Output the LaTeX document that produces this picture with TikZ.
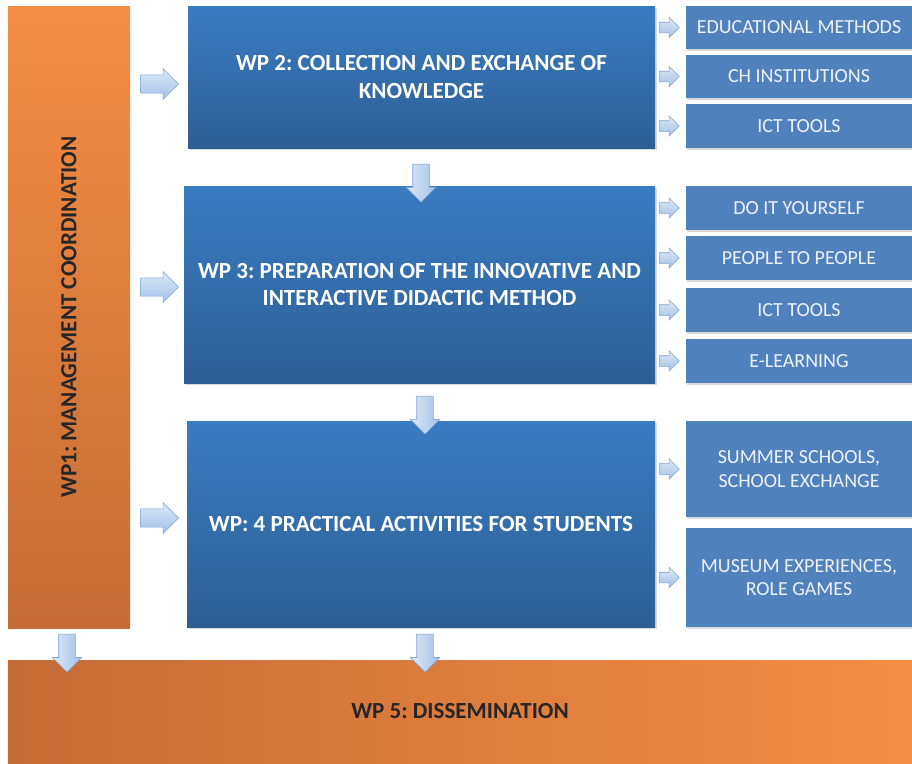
\documentclass[tikz,border=0pt]{standalone}
\usepackage{fontspec}
\setmainfont{Carlito}
\usetikzlibrary{positioning}
\usetikzlibrary{shapes.arrows}
\usetikzlibrary{shadows}
\definecolor{wpbluetop}{HTML}{3A7CC1}
\definecolor{wpbluebot}{HTML}{2D5F95}
\definecolor{subblue}{HTML}{4F81BD}
\definecolor{subtext}{HTML}{EEF2F8}
\definecolor{wporange}{HTML}{F58D43}
\definecolor{wporangedark}{HTML}{C46C36}
\definecolor{arrowlight}{HTML}{DDE8F6}
\definecolor{arrowdark}{HTML}{A3C1E8}
\definecolor{arrowline}{HTML}{7FA5D5}
\newcommand{\wpfont}{\bfseries\fontsize{16.4}{19.5}\selectfont}
\newcommand{\subfont}{\fontsize{14.2}{16.5}\selectfont}
\frenchspacing

\begin{document}
\begin{tikzpicture}[wpbox/.style={rectangle,inner sep=0pt,align=center,text=white,font=\wpfont,top color=wpbluetop,bottom color=wpbluebot,drop shadow={shadow xshift=0.04cm,shadow yshift=-0.05cm,opacity=0.3}},
  subbox/.style={rectangle,inner sep=0pt,align=center,text=subtext,font=\subfont,fill=subblue,minimum width=5.65cm,minimum height=1.1cm,drop shadow={shadow xshift=0.03cm,shadow yshift=-0.04cm,opacity=0.3}},
  orangebox/.style={rectangle,inner sep=0pt,align=center,text=black!85,font=\wpfont},
  bigarrow/.style={single arrow,draw=arrowline,top color=arrowlight,bottom color=arrowdark,inner sep=0.22cm,minimum height=0.95cm,single arrow head extend=0.16cm},
  smallarrow/.style={single arrow,draw=arrowline,top color=arrowlight,bottom color=arrowdark,inner sep=0.125cm,minimum height=0.5cm,single arrow head extend=0.125cm},
  downarrow/.style={single arrow,shape border rotate=270,draw=arrowline,left color=arrowlight,right color=arrowdark,inner sep=0.2cm,minimum height=0.95cm,single arrow head extend=0.16cm}]
    \useasboundingbox (0,0) rectangle (22.8,-19.075);
    \node[orangebox,top color=wporange,bottom color=wporangedark,minimum width=3.05cm,minimum height=15.55cm] (wp1) at (1.725,-7.925) {\rotatebox{90}{WP1: MANAGEMENT COORDINATION}};
    \node[orangebox,left color=wporangedark,right color=wporange,minimum width=22.6cm,minimum height=2.575cm] (wp5) at (11.5,-17.7875) {WP 5: DISSEMINATION};
    \node[wpbox,minimum width=11.675cm,minimum height=3.55cm] (wp2) at (10.5375,-1.925) {WP 2: COLLECTION AND EXCHANGE OF\\KNOWLEDGE};
    \node[wpbox,minimum width=11.775cm,minimum height=4.925cm] (wp3) at (10.4875,-7.1125) {WP 3: PREPARATION OF THE INNOVATIVE AND\\INTERACTIVE DIDACTIC METHOD};
    \node[wpbox,minimum width=11.7cm,minimum height=5.15cm] (wp4) at (10.525,-13.1) {WP: 4 PRACTICAL ACTIVITIES FOR STUDENTS};
    % sub-tasks
    \node[subbox,minimum height=1.075cm] (edu) at (19.975,-0.6875) {EDUCATIONAL METHODS};
    \node[subbox,minimum height=1.075cm] (chinst) at (19.975,-1.9125) {CH INSTITUTIONS};
    \node[subbox] (ict2) at (19.975,-3.15) {ICT TOOLS};
    \node[subbox] (diy) at (19.975,-5.2) {DO IT YOURSELF};
    \node[subbox] (p2p) at (19.975,-6.45) {PEOPLE TO PEOPLE};
    \node[subbox] (ict3) at (19.975,-7.75) {ICT TOOLS};
    \node[subbox] (elearn) at (19.975,-9.025) {E-LEARNING};
    \node[subbox,minimum height=2.4cm] (summer) at (19.975,-11.725) {SUMMER SCHOOLS,\\SCHOOL EXCHANGE};
    \node[subbox,minimum height=2.475cm] (museum) at (19.975,-14.4375) {MUSEUM EXPERIENCES,\\ROLE GAMES};
    \foreach \s in {edu,chinst,ict2,diy,p2p,ict3,elearn,summer,museum}
      \node[smallarrow,left=0.15cm of \s] (to\s) {};
    % flow arrows
    \node[bigarrow] (to2) at (3.875,-2.1) {};
    \node[bigarrow] (to3) at (3.875,-7.175) {};
    \node[bigarrow] (to4) at (3.875,-12.95) {};
    \node[downarrow] (d23) at (10.525,-4.475) {};
    \node[downarrow] (d34) at (10.625,-10.275) {};
    \node[downarrow] (d45) at (10.625,-16.225) {};
    \node[downarrow] (d15) at (1.675,-16.225) {};
\end{tikzpicture}
\end{document}
